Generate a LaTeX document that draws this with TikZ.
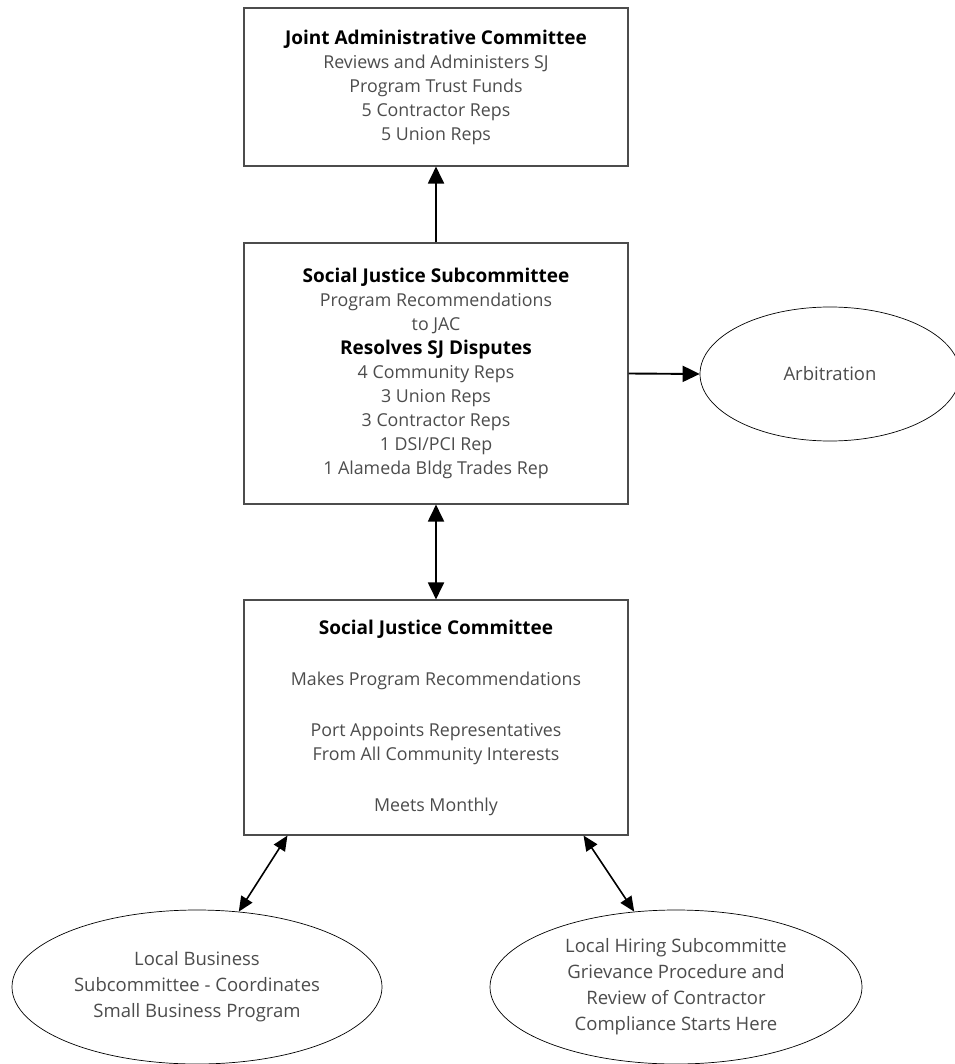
\documentclass[tikz,border=0pt]{standalone}
\usepackage{fontspec}
\setmainfont{Open Sans}
\usetikzlibrary{arrows.meta,shapes.geometric}
\newcommand{\headline}[1]{\textcolor{black}{\fontsize{19}{24}\selectfont\textbf{#1}}}

\begin{document}
\begin{tikzpicture}[x=1pt,y=-1pt,
    box/.style={draw=black!70, line width=1.1pt, minimum width=384pt, align=center,
      text=black!70, font=\fontsize{17.8}{24}\selectfont, inner sep=0pt},
    oval/.style={draw, ellipse, line width=0.7pt, align=center, inner sep=0pt,
      text=black!70, font=\fontsize{18.5}{26}\selectfont},
    link/.style={line width=1.9pt, -{Triangle[width=16pt,length=17pt]}},
    both/.style={line width=1.9pt, {Triangle[width=16pt,length=17pt]}-{Triangle[width=16pt,length=17pt]}},
    diag/.style={line width=1.6pt, {Triangle[width=13pt,length=15pt]}-{Triangle[width=13pt,length=15pt]}}]
  \useasboundingbox (0,0) rectangle (954,1064);
  \node[box, minimum height=158pt] (jac) at (436,87)
    {\headline{Joint Administrative Committee}\\
     Reviews and Administers SJ\\ Program Trust Funds\\ 5 Contractor Reps\\ 5 Union Reps};
  \node[box, minimum height=261pt] (sjs) at (436,373.5)
    {\headline{Social Justice Subcommittee}\\
     Program Recommendations\\ to JAC\\
     \headline{Resolves SJ Disputes}\\
     4 Community Reps\\ 3 Union Reps\\ 3 Contractor Reps\\ 1 DSI/PCI Rep\\
     1 Alameda Bldg Trades Rep};
  \node[box, minimum height=235pt] (sjc) at (436,717.5)
    {\headline{Social Justice Committee}\\[27pt]
     Makes Program Recommendations\\[27pt]
     Port Appoints Representatives\\ From All Community Interests\\[27pt]
     Meets Monthly};
  \node[oval, minimum width=260pt, minimum height=134pt] (arb) at (830,374) {Arbitration};
  \node[oval, minimum width=370pt, minimum height=154pt] (lb) at (197,987)
    {Local Business\\ Subcommittee - Coordinates\\ Small Business Program};
  \node[oval, minimum width=372pt, minimum height=154pt] (lh) at (676,987)
    {Local Hiring Subcommitte\\ Grievance Procedure and\\ Review of Contractor\\ Compliance Starts Here};
  % connectors
  \draw[link] (sjs.north) -- (jac.south);
  \draw[link] (sjs.east) -- (arb.west);
  \draw[both] (sjs.south) -- (sjc.north);
  \draw[diag] ([xshift=44pt]sjc.south west) -- (lb.61);
  \draw[diag] ([xshift=-45pt]sjc.south east) -- (lh.119);
\end{tikzpicture}
\end{document}
